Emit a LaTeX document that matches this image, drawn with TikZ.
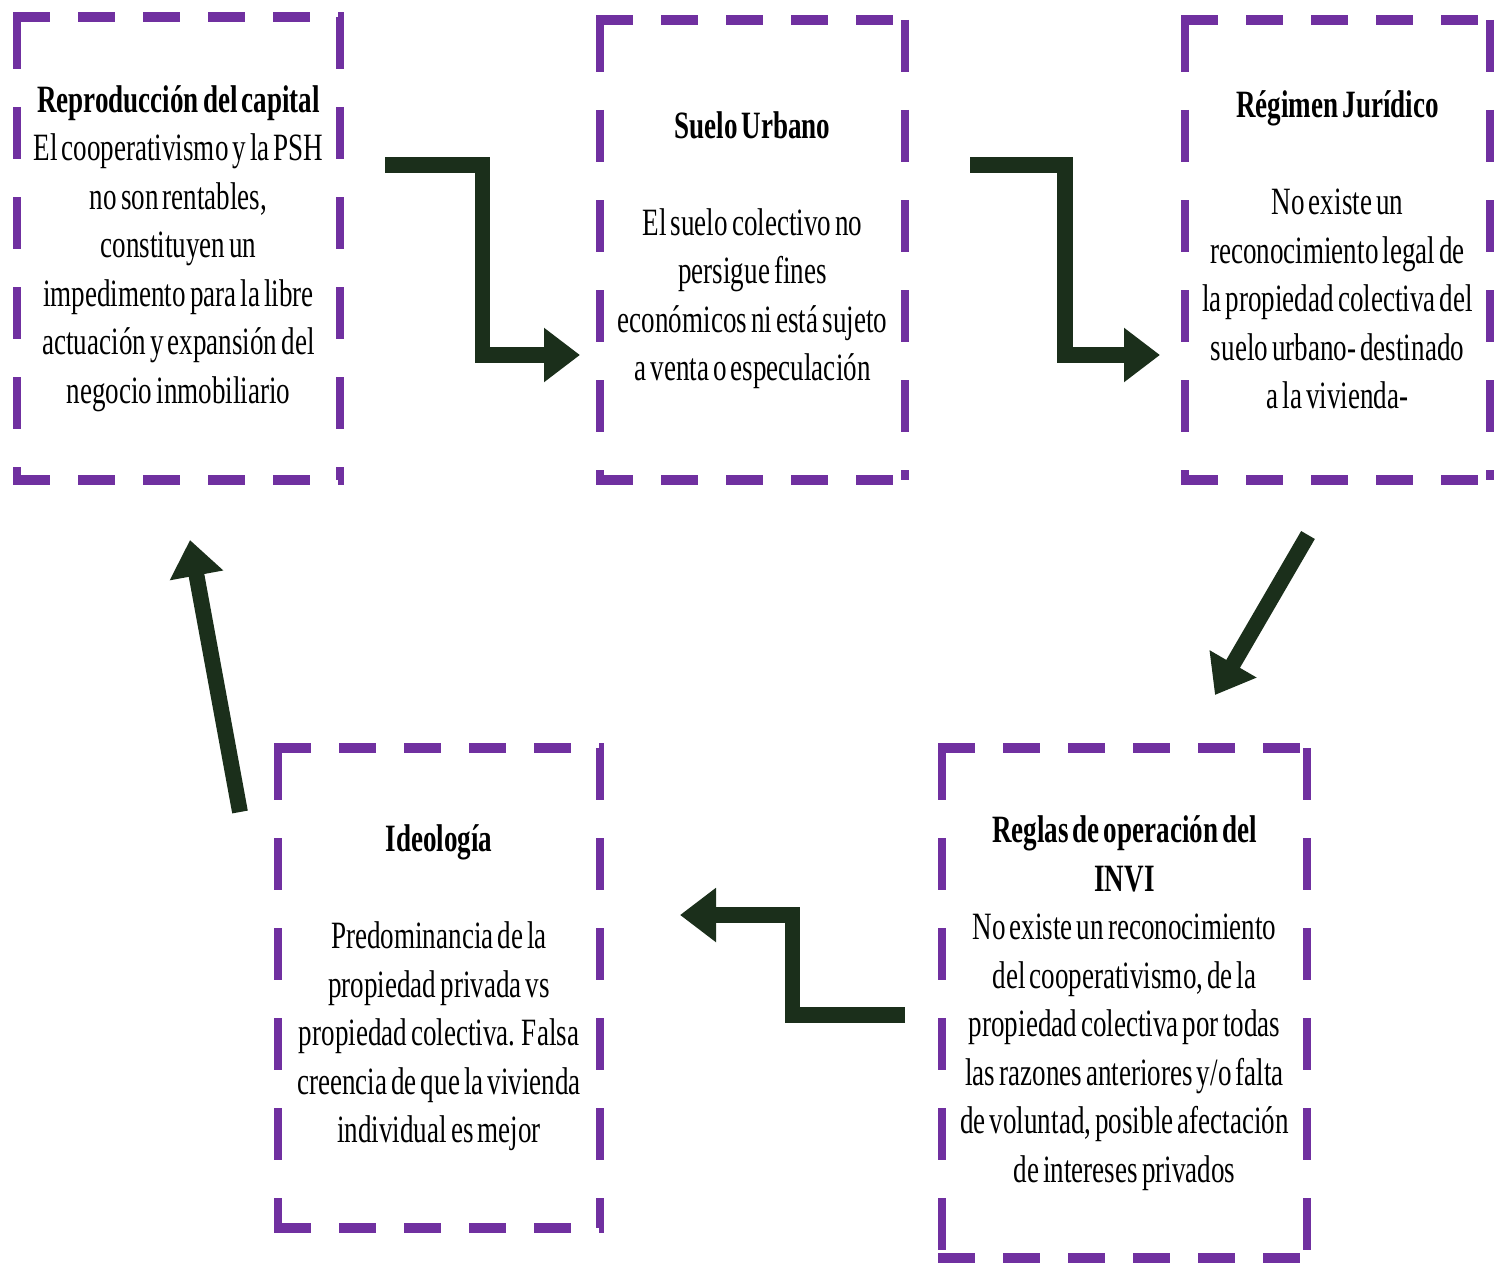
\documentclass[tikz,border=0pt]{standalone}
\usepackage{fontspec}
\setmainfont{Liberation Serif}[FakeStretch=0.70, WordSpace=0.6]
\usepackage{xcolor}
\usetikzlibrary{arrows.meta, calc}

\definecolor{boxpurple}{HTML}{7030A0}
\definecolor{arrowgreen}{HTML}{1B2F1B}

\begin{document}
\begin{tikzpicture}[
		card/.style={
			rectangle, inner sep=0pt, outer sep=0pt,
			align=center, font=\fontsize{11}{13.8}\selectfont
		},
		hdash/.style={draw=boxpurple, line width=0.1cm, dash pattern=on 0.37cm off 0.28cm},
		vdash/.style={draw=boxpurple, line width=0.08cm, dash pattern=on 0.52cm off 0.38cm},
		flow/.style={draw=arrowgreen, line width=4.5pt,
			-{Triangle[length=0.36cm, width=0.52cm]}},
		]
		
		\useasboundingbox (0,0) rectangle (15.01,12.66);
		
		\node[card, minimum width=3.23cm, minimum height=4.63cm] (rep) at (1.785, 10.175)
			{\textbf{Reproducción del capital}\\ El cooperativismo y la PSH\\ no son rentables,\\
			 constituyen un\\ impedimento para la libre\\ actuación y expansión del\\ negocio inmobiliario};
		\node[card, minimum width=3.05cm, minimum height=4.6cm] (suelo) at (7.525, 10.16)
			{\textbf{Suelo Urbano}\\[13.8pt] El suelo colectivo no\\ persigue fines\\
			 económicos ni está sujeto\\ a venta o especulación};
		\node[card, minimum width=3.05cm, minimum height=4.6cm] (reg) at (13.375, 10.16)
			{\textbf{Régimen Jurídico}\\[13.8pt] No existe un\\ reconocimiento legal de\\
			 la propiedad colectiva del\\ suelo urbano- destinado\\ a la vivienda-};
		\node[card, minimum width=3.65cm, minimum height=5.1cm] (reglas) at (11.245, 2.63)
			{\textbf{Reglas de operación del}\\ \textbf{INVI}\\ No existe un reconocimiento\\
			 del cooperativismo, de la\\ propiedad colectiva por todas\\ las razones anteriores y/o falta\\
			 de voluntad, posible afectación\\ de intereses privados};
		\node[card, minimum width=3.22cm, minimum height=4.8cm] (ideo) at (4.39, 2.78)
			{\textbf{Ideología}\\[13.8pt] Predominancia de la\\ propiedad privada vs\\
			 propiedad colectiva. Falsa\\ creencia de que la vivienda\\ individual es mejor};
		
		% dashed frames
		\foreach \b in {rep,suelo,reg,reglas,ideo} {
			\draw[hdash] ([xshift=-0.04cm]\b.north west) -- ([xshift=0.04cm]\b.north east)
				([xshift=-0.04cm]\b.south west) -- ([xshift=0.04cm]\b.south east);
			\draw[vdash] (\b.north west) -- (\b.south west)
				(\b.north east) -- (\b.south east);
		}
		
		\coordinate (a1s) at ([shift={(0.45,0.835)}]rep.east);
		\coordinate (a1e) at ([shift={(-0.20,-1.05)}]suelo.west);
		\coordinate (a2s) at ([shift={(0.65,0.85)}]suelo.east);
		\coordinate (a2e) at ([shift={(-0.25,-1.05)}]reg.west);
		\coordinate (a3s) at ([shift={(-0.295,-0.55)}]reg.south);
		\coordinate (a3e) at ([shift={(0.905,0.53)}]reglas.north);
		\coordinate (a4s) at ([shift={(-0.37,-0.12)}]reglas.west);
		\coordinate (a4e) at ([shift={(0.80,0.73)}]ideo.east);
		\coordinate (a5s) at ([shift={(-0.38,-0.64)}]ideo.north west);
		\coordinate (a5e) at ([shift={(0.115,-0.60)}]rep.south);
		
		\draw[flow] (a1s) -| ($(a1s)!0.5!(a1e)$) |- (a1e);
		\draw[flow] (a2s) -| ($(a2s)!0.5!(a2e)$) |- (a2e);
		\draw[flow] (a3s) -- (a3e);
		\draw[flow] (a4s) -| ($(a4s)!0.5!(a4e)$) |- (a4e);
		\draw[flow] (a5s) -- (a5e);
		
	\end{tikzpicture}
\end{document}
